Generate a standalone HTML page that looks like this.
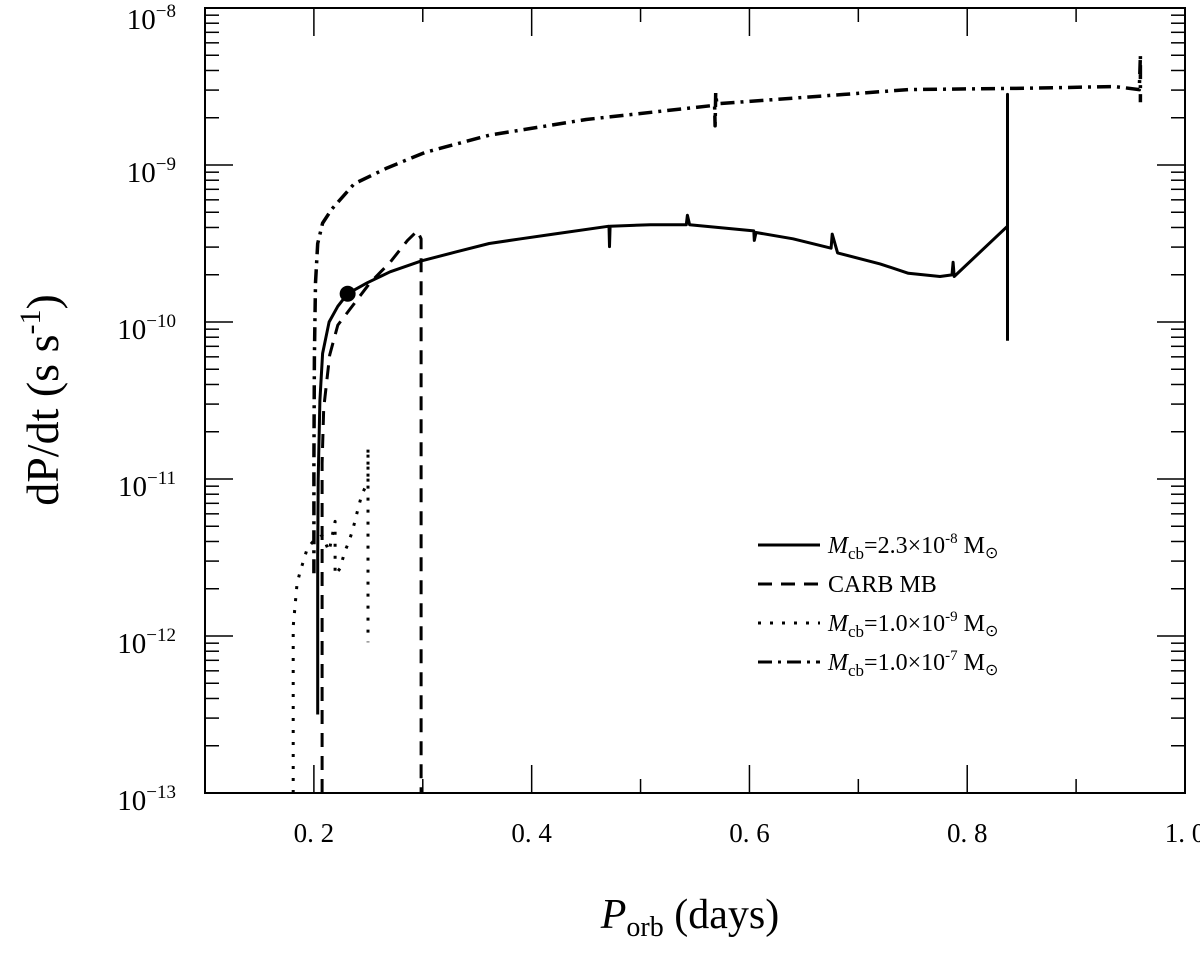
<!DOCTYPE html>
<html><head><meta charset="utf-8">
<style>
body{margin:0;background:#fff;}
svg text{font-family:"Liberation Serif",serif;fill:#000;}
</style></head>
<body>
<svg id="chart" width="1200" height="949" viewBox="0 0 1200 949">
<rect x="205" y="8" width="980" height="785" fill="none" stroke="#000" stroke-width="2"/>
<g id="axes"></g>
<g id="series"></g>
<text x="58" y="400" transform="rotate(-90 58 400)" text-anchor="middle" font-size="46">dP/dt (s s<tspan dy="-18" font-size="30">-1</tspan><tspan dy="18">)</tspan></text>
<text x="690" y="928" text-anchor="middle" font-size="42"><tspan font-style="italic">P</tspan><tspan font-size="28" dy="8">orb</tspan><tspan dy="-8"> (days)</tspan></text>
<g id="legend"></g>
</svg>
<script>
const xTicks=[0.2,0.3,0.4,0.5,0.6,0.7,0.8,0.9];
const xLabels=[0.2,0.4,0.6,0.8,1.0];
const yDecades=[-8,-9,-10,-11,-12,-13];
const solidX=[0.2035,0.2035,0.204,0.2055,0.208,0.214,0.222,0.231,0.249,0.27,0.299,0.33,0.361,0.39,0.42,0.471,0.4715,0.472,0.509,0.542,0.543,0.545,0.604,0.6045,0.606,0.64,0.675,0.676,0.681,0.72,0.746,0.775,0.786,0.787,0.788,0.837,0.837,0.837];
const solidY=[-12.5,-11.5,-11.0,-10.5,-10.2,-10.0,-9.9,-9.82,-9.75,-9.68,-9.61,-9.555,-9.5,-9.47,-9.44,-9.39,-9.52,-9.39,-9.38,-9.38,-9.32,-9.38,-9.42,-9.48,-9.43,-9.47,-9.53,-9.44,-9.56,-9.63,-9.69,-9.71,-9.7,-9.62,-9.71,-9.39,-8.55,-10.12];
const carbX=[0.2075,0.2075,0.209,0.2145,0.222,0.233,0.2515,0.27,0.286,0.295,0.2985,0.2985];
const carbY=[-13,-10.9,-10.55,-10.21,-10.02,-9.92,-9.75,-9.62,-9.48,-9.42,-9.47,-13];
const dotX=[0.181,0.181,0.1845,0.187,0.194,0.199,0.2075,0.212,0.214,0.2195,0.2195,0.224,0.2285,0.231,0.235,0.238,0.2405,0.244,0.248,0.2497,0.2497,0.2497];
const dotY=[-13,-11.94,-11.67,-11.6,-11.44,-11.4,-11.36,-11.43,-11.46,-11.27,-11.61,-11.57,-11.46,-11.42,-11.34,-11.26,-11.19,-11.1,-11.04,-11.04,-10.8,-12.04];
const ddX=[0.2,0.2,0.2005,0.2015,0.2035,0.208,0.2165,0.237,0.267,0.302,0.361,0.45,0.568,0.5685,0.569,0.57,0.687,0.746,0.864,0.935,0.958,0.959,0.959];
const ddY=[-11.6,-10.9,-10.22,-9.75,-9.5,-9.37,-9.28,-9.12,-9.02,-8.92,-8.81,-8.71,-8.62,-8.75,-8.54,-8.61,-8.55,-8.52,-8.51,-8.5,-8.52,-8.3,-8.6];
const legendLabels=["2.3×10","CARB MB","1.0×10","1.0×10"];
const legendExp=["-8","","-9","-7"];

const X=v=>205+(v-0.1)*980/0.9;
const Y=l=>8+(-8-l)*157;
const NS="http://www.w3.org/2000/svg";
function mk(tag,attrs,parent){const e=document.createElementNS(NS,tag);for(const k in attrs)e.setAttribute(k,attrs[k]);parent.appendChild(e);return e;}
const axes=document.getElementById('axes');
xTicks.forEach(v=>{
  const len=(Math.round(v*10)%2===0)?28:14;
  const t=mk('line',{x1:X(v),x2:X(v),y1:793,y2:793-len,stroke:'#000','stroke-width':1.5},axes);
  
  
  const t2=mk('line',{x1:X(v),x2:X(v),y1:8,y2:8+len,stroke:'#000','stroke-width':1.5},axes);
  
  
});
xLabels.forEach(v=>{
  const t=mk('text',{x:X(v),y:842,'text-anchor':'middle','font-size':27},axes);
  t.textContent=v.toFixed(1).replace('.','. ');
  
  
});
yDecades.forEach(d=>{
  [0,1].forEach(side=>{
    const x0=side?1185:205,s=side?-1:1;
    const M=mk('line',{x1:x0,x2:x0+s*28,y1:Y(d),y2:Y(d),stroke:'#000','stroke-width':1.5},axes);
    
    
    if(d>-13)for(let m=2;m<=9;m++){
      const yy=Y(d-1+Math.log10(m));
      const mi=mk('line',{x1:x0,x2:x0+s*14,y1:yy,y2:yy,stroke:'#000','stroke-width':1.5},axes);
      
      
    }
  });
  const t=mk('text',{x:176,y:Y(d)+(d===-8?21:17),'text-anchor':'end','font-size':29},axes);
  t.innerHTML='10<tspan dy="-12" font-size="19">−'+(-d)+'</tspan>';
  
  
});
const ser=document.getElementById('series');
function line(xs,ys,dash,name,w){
  const d=xs.map((v,i)=>(i?'L':'M')+X(v).toFixed(1)+' '+Y(ys[i]).toFixed(1)).join(' ');
  const p=mk('path',{d:d,fill:'none',stroke:'#000','stroke-width':w,'stroke-dasharray':dash,'stroke-linejoin':'round'},ser);
  
  
}
line(solidX,solidY,'none','series-mcb-2.3e-8',3);
line(carbX,carbY,'14 9','series-carb-mb',3);
line(dotX,dotY,'3 9','series-mcb-1.0e-9',3);
line(ddX,ddY,'14 6 3 6','series-mcb-1.0e-7',3.5);
const dot=mk('ellipse',{cx:X(0.231),cy:Y(-9.82),rx:8,ry:8,fill:'#000'},ser);


const lg=document.getElementById('legend');
const dashes=['none','14 9','3 9','14 6 3 6'];
legendLabels.forEach((lab,i)=>{
  const y=545+i*39;
  const l=mk('line',{x1:758,x2:820,y1:y,y2:y,stroke:'#000','stroke-width':3,'stroke-dasharray':dashes[i]},lg);
  
  
  const t=mk('text',{x:828,y:y+8,'font-size':24},lg);
  if(legendExp[i]) t.innerHTML='<tspan font-style="italic">M</tspan><tspan font-size="17" dy="6">cb</tspan><tspan dy="-6">='+lab+'</tspan><tspan font-size="15" dy="-10">'+legendExp[i]+'</tspan><tspan dy="10"> M</tspan><tspan font-size="16" dy="5">⊙</tspan>';
  else t.textContent=lab;
  
  
});
</script>
</body></html>
